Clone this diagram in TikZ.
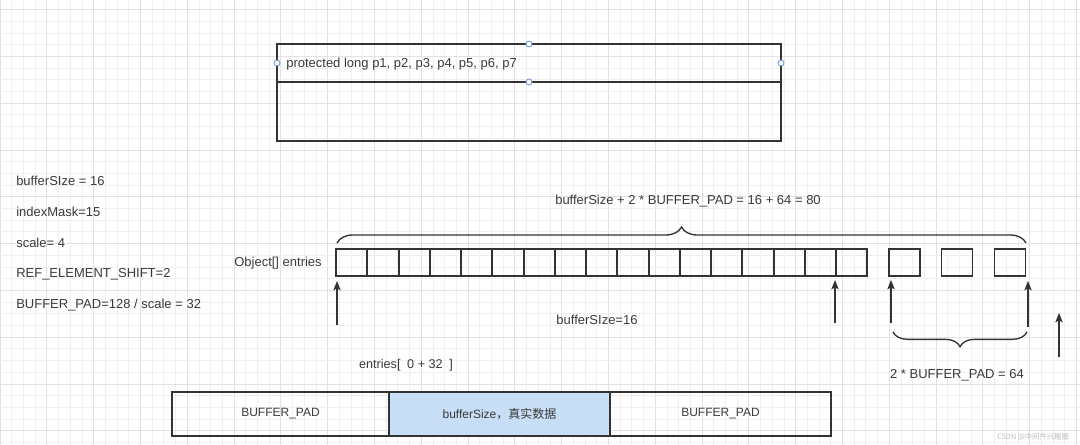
\documentclass[tikz,border=0pt]{standalone}
\usepackage{fontspec}
\setmainfont{Liberation Sans}
\newfontfamily\cjk{Noto Sans CJK SC}
\usetikzlibrary{arrows.meta,decorations.pathreplacing}
\definecolor{ink}{HTML}{333333}
\definecolor{txt}{HTML}{3A3A3A}
\definecolor{gridminor}{HTML}{EFEFEF}
\definecolor{gridmajor}{HTML}{E2E2E2}
\definecolor{handle}{HTML}{6B8ED6}
\definecolor{realfill}{HTML}{C7DEF6}
\definecolor{wm}{HTML}{BDBDBD}
\tikzset{
  lbl/.style={text=txt, inner sep=0pt, anchor=west},
  clbl/.style={text=txt, inner sep=0pt},
  cellslot/.style={minimum width=23.44pt, minimum height=20.25pt, inner sep=0pt, outer sep=0pt},
  cellbox/.style={cellslot, draw=ink, line width=1pt},
  padbox/.style={draw=ink, line width=1pt, minimum height=33pt, inner sep=0pt, outer sep=0pt, text=txt, font=\fontsize{9pt}{11pt}\selectfont},
  arr/.style={draw=ink, line width=1pt, -{Stealth[length=7pt,width=5.5pt,inset=1.5pt]}},
  bracel/.style={draw=ink, line width=1pt, decorate},
  hnd/.style={circle, draw=handle, fill=white, line width=0.6pt, minimum size=4.5pt, inner sep=0pt},
}
\begin{document}
\begin{tikzpicture}[x=0.75pt,y=-0.75pt, font=\fontsize{9.75pt}{12pt}\selectfont]
\useasboundingbox (0,0) rectangle (1080,445);
\fill[white] (0,0) rectangle (1080,445);
% grid
\foreach \i in {0,...,92} {
  \pgfmathtruncatemacro{\m}{mod(\i,4)}
  \ifnum\m=0
    \draw[gridmajor, line width=0.5pt] (\i*11.7,0) -- (\i*11.7,445);
  \else
    \draw[gridminor, line width=0.5pt] (\i*11.7,0) -- (\i*11.7,445);
  \fi
}
\foreach \j in {0,...,38} {
  \pgfmathtruncatemacro{\m}{mod(\j,4)}
  \ifnum\m=0
    \draw[gridmajor, line width=0.5pt] (0,9.5+\j*11.7) -- (1080,9.5+\j*11.7);
  \else
    \draw[gridminor, line width=0.5pt] (0,9.5+\j*11.7) -- (1080,9.5+\j*11.7);
  \fi
}

% top class box
\node[draw=ink, line width=1.1pt, outer sep=0pt, minimum width=378pt, minimum height=28.5pt, inner sep=0pt] (head) at (529,63) {};
\node[draw=ink, line width=1.1pt, outer sep=0pt, minimum width=378pt, minimum height=44.25pt, inner sep=0pt, anchor=north] (body) at (head.south) {};
\node[lbl] (fields) at (286,64) {protected long p1, p2, p3, p4, p5, p6, p7};
\node[hnd] (h1) at (head.north) {};
\node[hnd] (h2) at (head.west) {};
\node[hnd] (h3) at (head.east) {};
\node[hnd] (h4) at (head.south) {};

% left constants
\node[lbl] (t1) at (16,181) {bufferSIze = 16};
\node[lbl] (t2) at (16,212) {indexMask=15};
\node[lbl] (t3) at (16,243) {scale= 4};
\node[lbl] (t4) at (16,274) {REF\_ELEMENT\_SHIFT=2};
\node[lbl] (t5) at (16,305) {BUFFER\_PAD=128 / scale = 32};

% array
\node[clbl, anchor=east] (objlbl) at (322,263) {Object[] entries};
\foreach \k in {1,...,17} {
  \node[cellslot] (c\k) at ({336+31.25*(\k-0.5)},262.5) {};
}
\draw[ink, line width=1pt] (336,249) rectangle (867,276);
\foreach \k in {1,...,16} {
  \pgfmathsetmacro{\xx}{round(336+31.25*\k)}
  \draw[ink, line width=1pt] (\xx,249) -- (\xx,276);
}
\node[cellbox] (p1) at (904.5,262.5) {};
\node[cellbox] (p2) at (957,262.5) {};
\node[cellbox] (p3) at (1010,262.5) {};

% top brace
\coordinate (bt1) at (337,243);
\coordinate (bt2) at (1026,243);
\draw[bracel, decoration={brace, amplitude=12pt, aspect=0.5}] (bt1) -- (bt2);
\node[clbl] (total) at (688,201) {bufferSize + 2 * BUFFER\_PAD = 16 + 64 = 80};

% arrows
\coordinate (a1s) at (337,325); \coordinate (a1e) at (337,281);
\coordinate (a2s) at (835,323); \coordinate (a2e) at (835,280);
\coordinate (a3s) at (891,323); \coordinate (a3e) at (891,280);
\coordinate (a4s) at (1028,327); \coordinate (a4e) at (1028,281);
\coordinate (a5s) at (1059,357); \coordinate (a5e) at (1059,313);
\draw[arr] (a1s) -- (a1e);
\draw[arr] (a2s) -- (a2e);
\draw[arr] (a3s) -- (a3e);
\draw[arr] (a4s) -- (a4e);
\draw[arr] (a5s) -- (a5e);

\node[clbl] (bs) at (597,320) {bufferSIze=16};

% bottom brace
\coordinate (bb1) at (893,332);
\coordinate (bb2) at (1027,332);
\draw[bracel, decoration={brace, mirror, amplitude=11pt, aspect=0.5}] (bb1) -- (bb2);
\node[clbl] (padlbl) at (957,375) {2 * BUFFER\_PAD = 64};

% entries label
\node[clbl, font=\fontsize{9.5pt}{11pt}\selectfont] (ent) at (406,365) {entries[\hspace{5pt}0 + 32\hspace{5pt}]};

% bottom layout
\node[padbox, minimum width=162.75pt] (padL) at (280.5,414) {BUFFER\_PAD};
\node[padbox, minimum width=165.75pt, fill=realfill, anchor=west] (real) at (padL.east) {bufferSize{\cjk ，真实数据}};
\node[padbox, minimum width=165.75pt, anchor=west] (padR) at (real.east) {BUFFER\_PAD};

% watermark
\node[clbl, text=wm, font=\cjk\fontsize{5.5pt}{6pt}\selectfont] (wmk) at (1033,437) {CSDN @中间件兴趣圈};
\end{tikzpicture}
\end{document}
